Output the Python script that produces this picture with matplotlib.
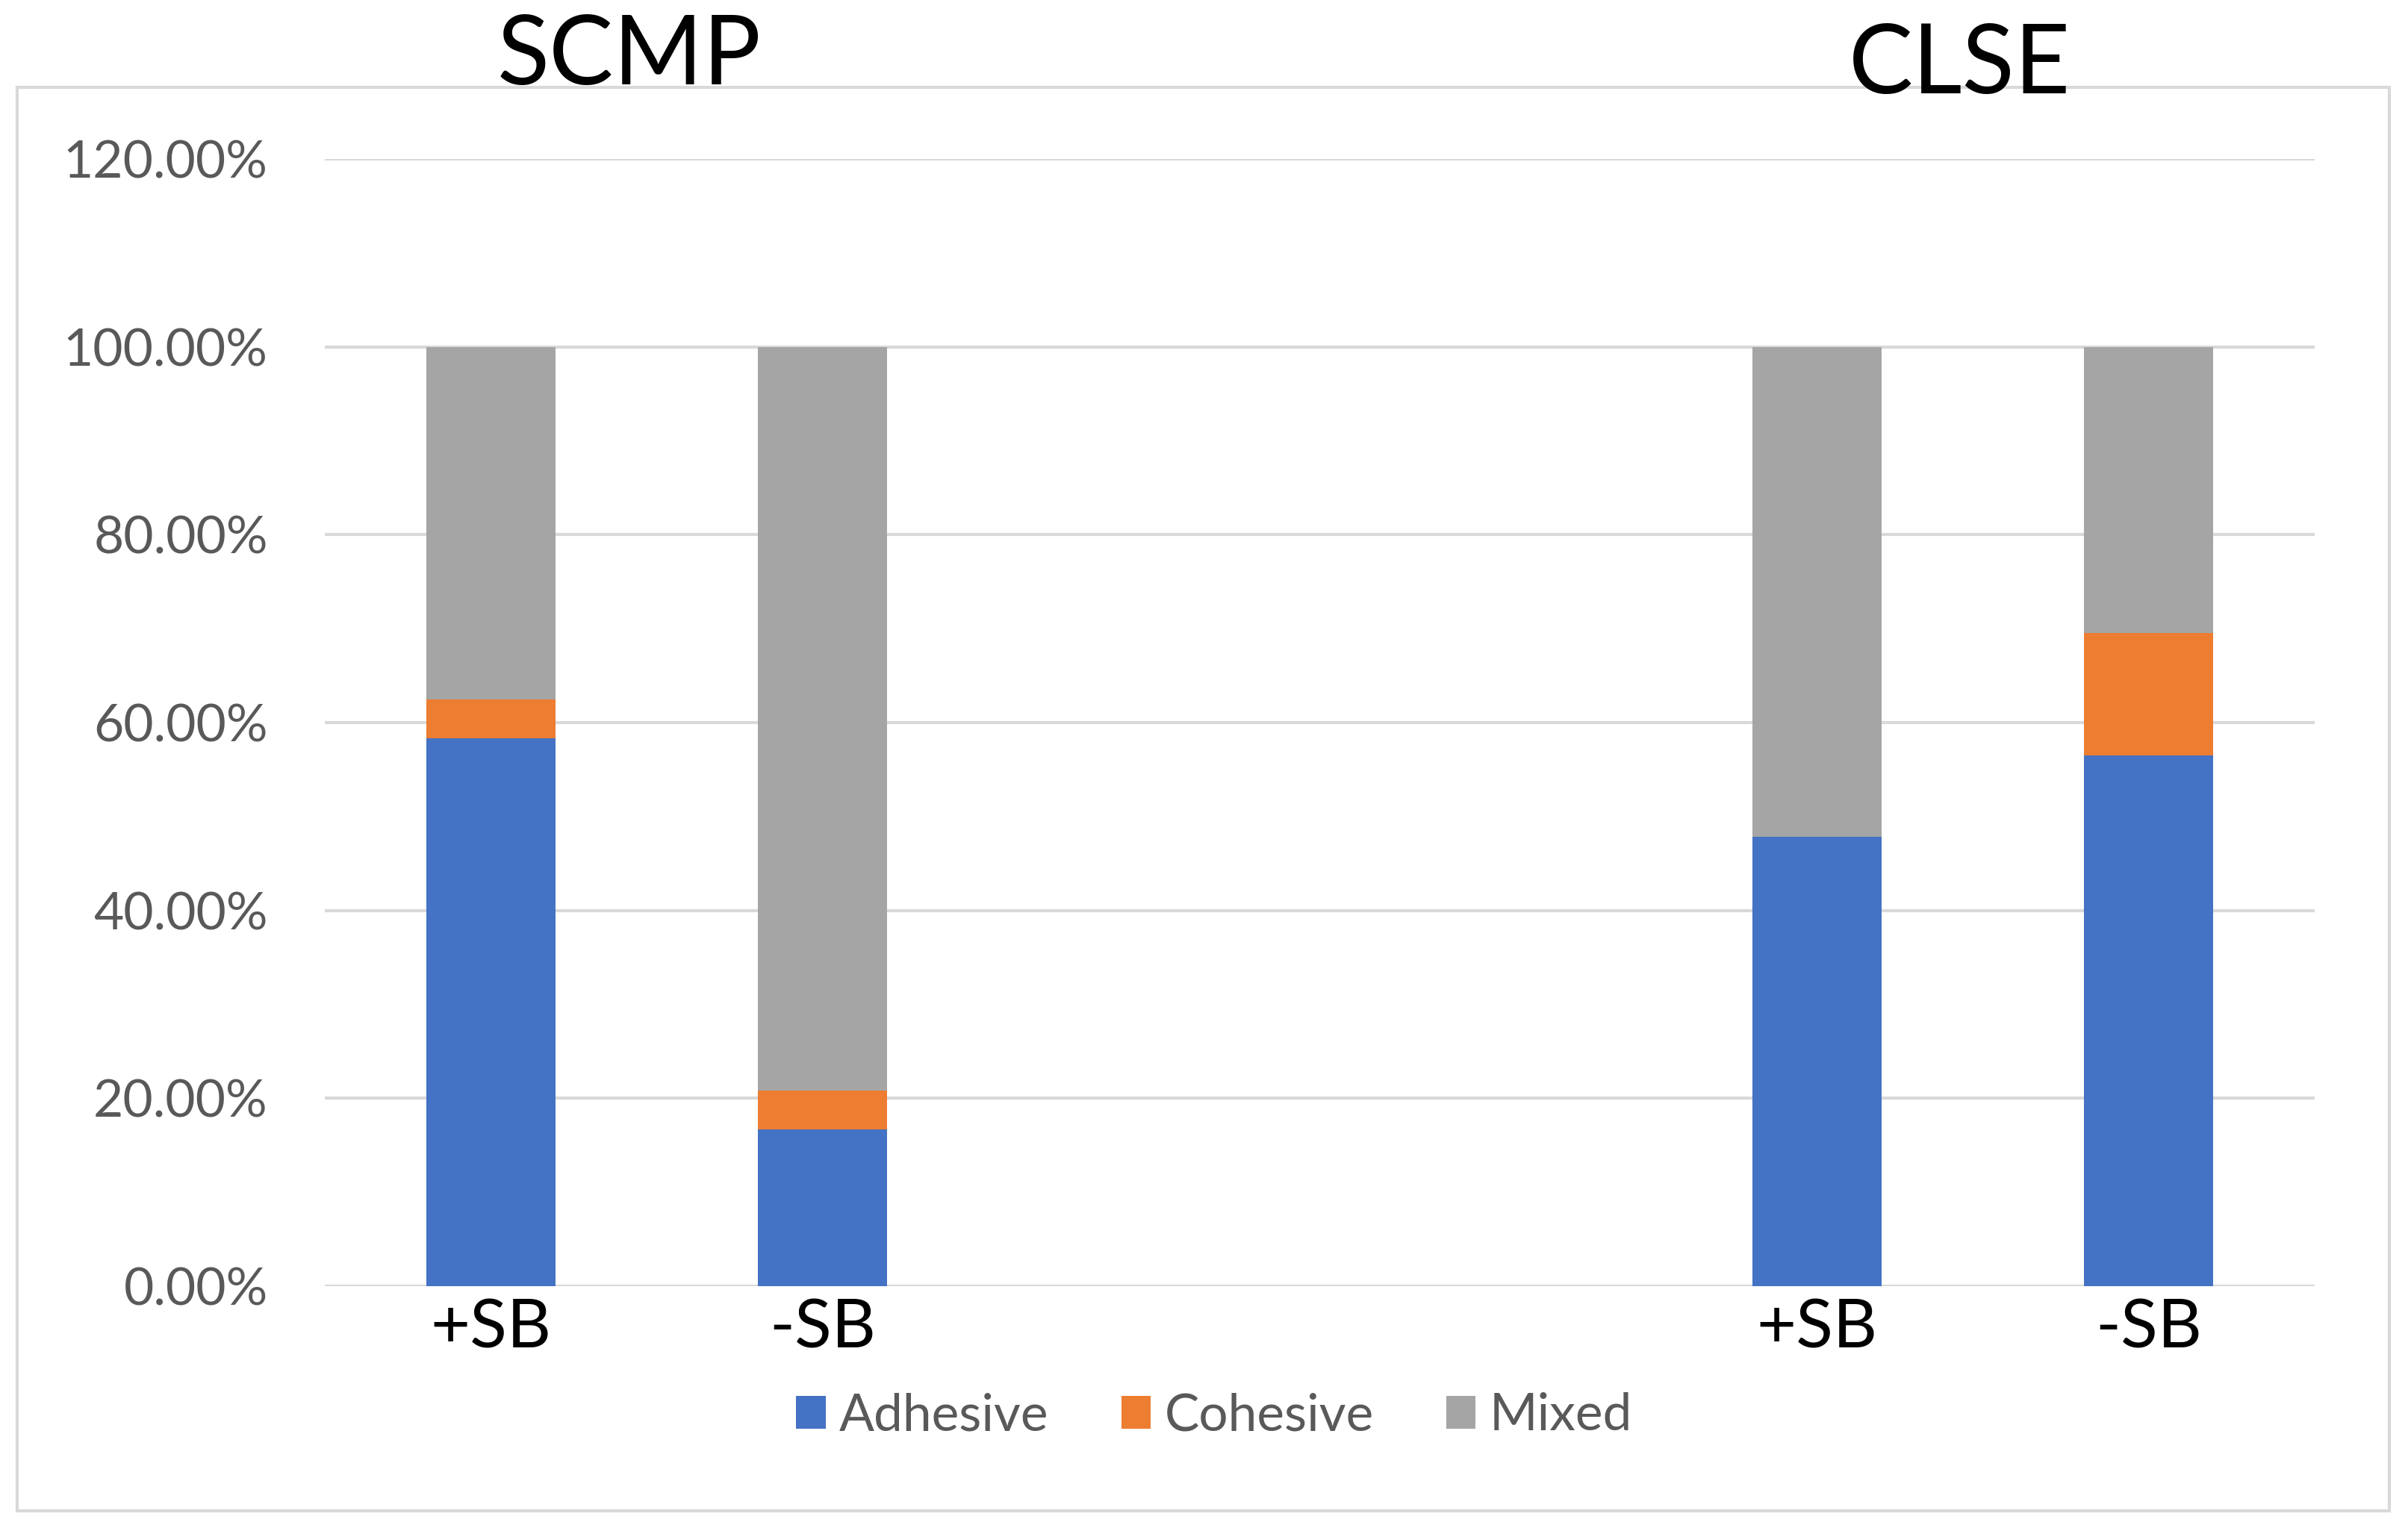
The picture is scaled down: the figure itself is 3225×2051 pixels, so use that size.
import matplotlib as mpl
import matplotlib.pyplot as plt
import numpy as np
from matplotlib.patches import Rectangle

mpl.use("Agg")

plt.rcParams["font.family"] = ["Lato", "DejaVu Sans"]

# Data (fractions of specimens per failure mode)
categories = ["+SB", "-SB", "", "", "+SB", "-SB"]
groups = ["SCMP", "CLSE"]
adhesive = [0.5833, 0.1667, 0.0, 0.0, 0.4783, 0.5652]
cohesive = [0.0417, 0.0417, 0.0, 0.0, 0.0, 0.1304]
mixed = [0.3750, 0.7917, 0.0, 0.0, 0.5217, 0.3043]
yticks = [0.0, 0.2, 0.4, 0.6, 0.8, 1.0, 1.2]

colors = {"Adhesive": "#4472C4", "Cohesive": "#ED7D31", "Mixed": "#A5A5A5"}
grid_color = "#D9D9D9"
text_gray = "#595959"

fig = plt.figure(figsize=(32.25, 20.51), dpi=100)
ax = fig.add_axes([0.1349, 0.1599, 0.8263, 0.7362])

x = np.arange(len(categories))
width = 0.39
adh = np.array(adhesive)
coh = np.array(cohesive)
mix = np.array(mixed)

ax.bar(x, adh, width, color=colors["Adhesive"], label="Adhesive", zorder=3)
ax.bar(x, coh, width, bottom=adh, color=colors["Cohesive"], label="Cohesive", zorder=3)
ax.bar(x, mix, width, bottom=adh + coh, color=colors["Mixed"], label="Mixed", zorder=3)

ax.set_xlim(-0.5, len(categories) - 0.5)
ax.set_ylim(0, 1.2)
ax.set_yticks(yticks)
ax.set_yticklabels([f"{v * 100:.2f}%" for v in yticks], color=text_gray, fontsize=50)
ax.set_xticks(x)
ax.set_xticklabels(categories, fontsize=66, color="black")
ax.tick_params(axis="y", length=0, pad=55)
ax.tick_params(axis="x", length=0, pad=11)
ax.yaxis.grid(True, color=grid_color, linewidth=3.0, zorder=0)
for spine in ax.spines.values():
    spine.set_visible(False)

# Outer chart frame
frame = Rectangle(
    (23 / 3225, 1 - 2024 / 2051),
    (3200 - 23) / 3225,
    (2024 - 117) / 2051,
    transform=fig.transFigure,
    fill=False,
    edgecolor=grid_color,
    linewidth=3.0,
    zorder=0,
)
fig.patches.append(frame)

# Group titles
fig.text(843 / 3225, 1 - 113 / 2051, groups[0], fontsize=93, ha="center", va="baseline")
fig.text(2625 / 3225, 1 - 125 / 2051, groups[1], fontsize=93, ha="center", va="baseline")

handles, labels = ax.get_legend_handles_labels()
leg = fig.legend(
    handles,
    labels,
    loc="center",
    bbox_to_anchor=(1626 / 3225, 1 - 1897 / 2051),
    ncol=3,
    frameon=False,
    fontsize=50,
    handlelength=0.57,
    handleheight=0.6,
    handletextpad=0.26,
    columnspacing=1.4,
)
for t in leg.get_texts():
    t.set_color(text_gray)

plt.savefig("out.png", dpi=100)
plt.close(fig)
